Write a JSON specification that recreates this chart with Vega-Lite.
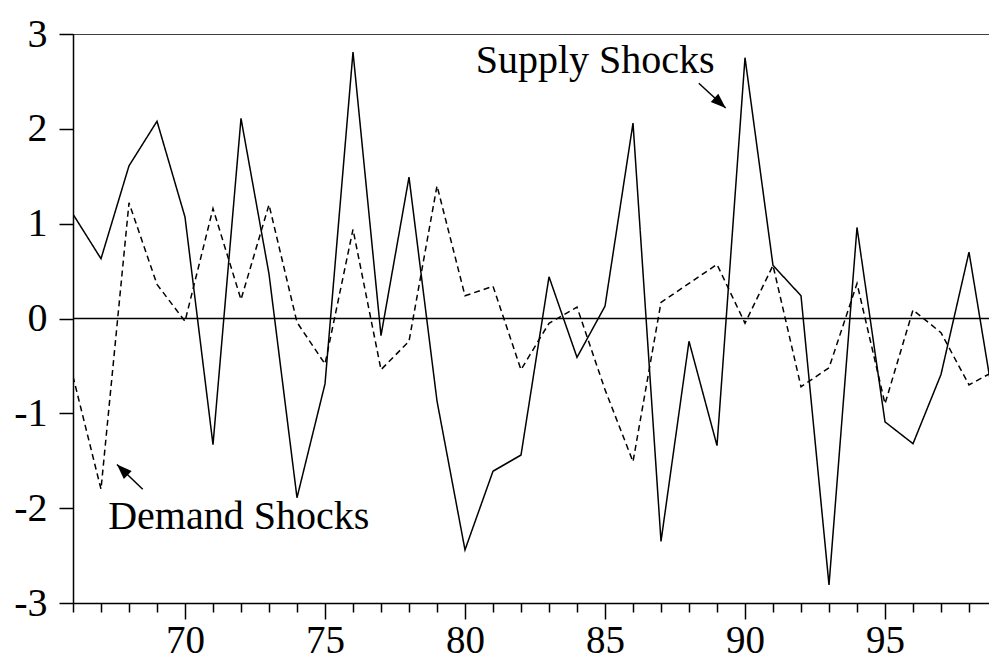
{
  "$schema": "https://vega.github.io/schema/vega-lite/v6.json",
  "width": 916,
  "height": 569,
  "autosize": {"type": "none"},
  "padding": {"left": 73, "top": 34, "right": 0, "bottom": 56},
  "background": "white",
  "config": {"view": {"stroke": null}, "font": "Liberation Serif"},
  "datasets": {
    "shocks": [
      {"x": 66, "series": "Supply", "y": 1.10},
      {"x": 67, "series": "Supply", "y": 0.63},
      {"x": 68, "series": "Supply", "y": 1.61},
      {"x": 69, "series": "Supply", "y": 2.08},
      {"x": 70, "series": "Supply", "y": 1.07},
      {"x": 71, "series": "Supply", "y": -1.33},
      {"x": 72, "series": "Supply", "y": 2.11},
      {"x": 73, "series": "Supply", "y": 0.47},
      {"x": 74, "series": "Supply", "y": -1.89},
      {"x": 75, "series": "Supply", "y": -0.69},
      {"x": 76, "series": "Supply", "y": 2.81},
      {"x": 77, "series": "Supply", "y": -0.18},
      {"x": 78, "series": "Supply", "y": 1.49},
      {"x": 79, "series": "Supply", "y": -0.87},
      {"x": 80, "series": "Supply", "y": -2.44},
      {"x": 81, "series": "Supply", "y": -1.61},
      {"x": 82, "series": "Supply", "y": -1.44},
      {"x": 83, "series": "Supply", "y": 0.44},
      {"x": 84, "series": "Supply", "y": -0.41},
      {"x": 85, "series": "Supply", "y": 0.13},
      {"x": 86, "series": "Supply", "y": 2.06},
      {"x": 87, "series": "Supply", "y": -2.35},
      {"x": 88, "series": "Supply", "y": -0.24},
      {"x": 89, "series": "Supply", "y": -1.34},
      {"x": 90, "series": "Supply", "y": 2.75},
      {"x": 91, "series": "Supply", "y": 0.56},
      {"x": 92, "series": "Supply", "y": 0.24},
      {"x": 93, "series": "Supply", "y": -2.81},
      {"x": 94, "series": "Supply", "y": 0.96},
      {"x": 95, "series": "Supply", "y": -1.09},
      {"x": 96, "series": "Supply", "y": -1.32},
      {"x": 97, "series": "Supply", "y": -0.59},
      {"x": 98, "series": "Supply", "y": 0.70},
      {"x": 99, "series": "Supply", "y": -1.09},
      {"x": 66, "series": "Demand", "y": -0.61},
      {"x": 67, "series": "Demand", "y": -1.80},
      {"x": 68, "series": "Demand", "y": 1.22},
      {"x": 69, "series": "Demand", "y": 0.36},
      {"x": 70, "series": "Demand", "y": -0.03},
      {"x": 71, "series": "Demand", "y": 1.16},
      {"x": 72, "series": "Demand", "y": 0.20},
      {"x": 73, "series": "Demand", "y": 1.20},
      {"x": 74, "series": "Demand", "y": -0.04},
      {"x": 75, "series": "Demand", "y": -0.48},
      {"x": 76, "series": "Demand", "y": 0.94},
      {"x": 77, "series": "Demand", "y": -0.54},
      {"x": 78, "series": "Demand", "y": -0.24},
      {"x": 79, "series": "Demand", "y": 1.40},
      {"x": 80, "series": "Demand", "y": 0.24},
      {"x": 81, "series": "Demand", "y": 0.34},
      {"x": 82, "series": "Demand", "y": -0.54},
      {"x": 83, "series": "Demand", "y": -0.05},
      {"x": 84, "series": "Demand", "y": 0.12},
      {"x": 85, "series": "Demand", "y": -0.75},
      {"x": 86, "series": "Demand", "y": -1.51},
      {"x": 87, "series": "Demand", "y": 0.17},
      {"x": 88, "series": "Demand", "y": 0.37},
      {"x": 89, "series": "Demand", "y": 0.57},
      {"x": 90, "series": "Demand", "y": -0.05},
      {"x": 91, "series": "Demand", "y": 0.56},
      {"x": 92, "series": "Demand", "y": -0.72},
      {"x": 93, "series": "Demand", "y": -0.52},
      {"x": 94, "series": "Demand", "y": 0.37},
      {"x": 95, "series": "Demand", "y": -0.90},
      {"x": 96, "series": "Demand", "y": 0.09},
      {"x": 97, "series": "Demand", "y": -0.15},
      {"x": 98, "series": "Demand", "y": -0.70},
      {"x": 99, "series": "Demand", "y": -0.54}
    ],
    "refs": [
      {"x": 66, "x2": 99, "y": 0, "y2": 0},
      {"x": 66, "x2": 99, "y": 3, "y2": 3}
    ],
    "arrows": [
      {"name": "Supply", "x": 88.35, "y": 2.48, "x2": 89.31, "y2": 2.22},
      {"name": "Demand", "x": 68.49, "y": -1.80, "x2": 67.57, "y2": -1.54}
    ],
    "heads": [
      {"name": "Supply", "x": 89.31, "y": 2.22},
      {"name": "Demand", "x": 67.57, "y": -1.54}
    ],
    "labels": [
      {"text": "Supply Shocks", "x": 84.65, "y": 2.594},
      {"text": "Demand Shocks", "x": 71.92, "y": -2.224}
    ]
  },
  "encoding": {
    "x": {
      "field": "x", "type": "quantitative", "title": null,
      "scale": {"domain": [66, 98.714], "nice": false, "zero": false},
      "axis": {
        "title": null, "grid": false,
        "values": [66,67,68,69,70,71,72,73,74,75,76,77,78,79,80,81,82,83,84,85,86,87,88,89,90,91,92,93,94,95,96,97,98],
        "domainColor": "black", "domainWidth": 1.5,
        "tickColor": "black", "tickWidth": 1.5,
        "tickSize": {"condition": {"test": "datum.value % 5 === 0", "value": 16}, "value": 9},
        "labelExpr": "datum.value % 5 === 0 ? '' + datum.value : ''",
        "labelFont": "Liberation Serif", "labelFontSize": 39, "labelColor": "black",
        "labelPadding": 2, "labelFlush": false, "labelOverlap": false
      }
    },
    "y": {
      "field": "y", "type": "quantitative", "title": null,
      "scale": {"domain": [-3, 3], "nice": false, "zero": false},
      "axis": {
        "title": null, "grid": false,
        "values": [-3,-2,-1,0,1,2,3],
        "domainColor": "black", "domainWidth": 1.5,
        "tickColor": "black", "tickWidth": 1.5, "tickSize": 14,
        "labelExpr": "'' + datum.value",
        "labelFont": "Liberation Serif", "labelFontSize": 40, "labelColor": "black",
        "labelPadding": 12, "labelFlush": false, "labelOverlap": false
      }
    }
  },
  "layer": [
    {
      "data": {"name": "shocks"},
      "mark": {"type": "line", "color": "black", "strokeWidth": 1.5, "clip": true},
      "encoding": {
        "strokeDash": {
          "field": "series", "type": "nominal",
          "scale": {"domain": ["Supply", "Demand"], "range": [[1, 0], [6, 4]]},
          "legend": null
        }
      }
    },
    {
      "data": {"name": "refs"},
      "mark": {"type": "rule", "color": "black", "strokeWidth": 1.5, "clip": true},
      "encoding": {"x2": {"field": "x2"}, "y2": {"field": "y2"}}
    },
    {
      "data": {"name": "arrows"},
      "mark": {"type": "rule", "color": "black", "strokeWidth": 1.5},
      "encoding": {"x2": {"field": "x2"}, "y2": {"field": "y2"}}
    },
    {
      "data": {"name": "heads"},
      "transform": [{"filter": "datum.name === 'Supply'"}],
      "mark": {"type": "point", "shape": "M0,0L-2,-0.75L-2,0.75Z", "filled": true, "color": "black", "opacity": 1, "size": 225, "angle": 42, "strokeWidth": 0}
    },
    {
      "data": {"name": "heads"},
      "transform": [{"filter": "datum.name === 'Demand'"}],
      "mark": {"type": "point", "shape": "M0,0L-2,-0.75L-2,0.75Z", "filled": true, "color": "black", "opacity": 1, "size": 225, "angle": 224, "strokeWidth": 0}
    },
    {
      "data": {"name": "labels"},
      "mark": {"type": "text", "font": "Liberation Serif", "fontSize": 40, "color": "black", "align": "center", "baseline": "alphabetic"},
      "encoding": {"text": {"field": "text"}}
    }
  ]
}
